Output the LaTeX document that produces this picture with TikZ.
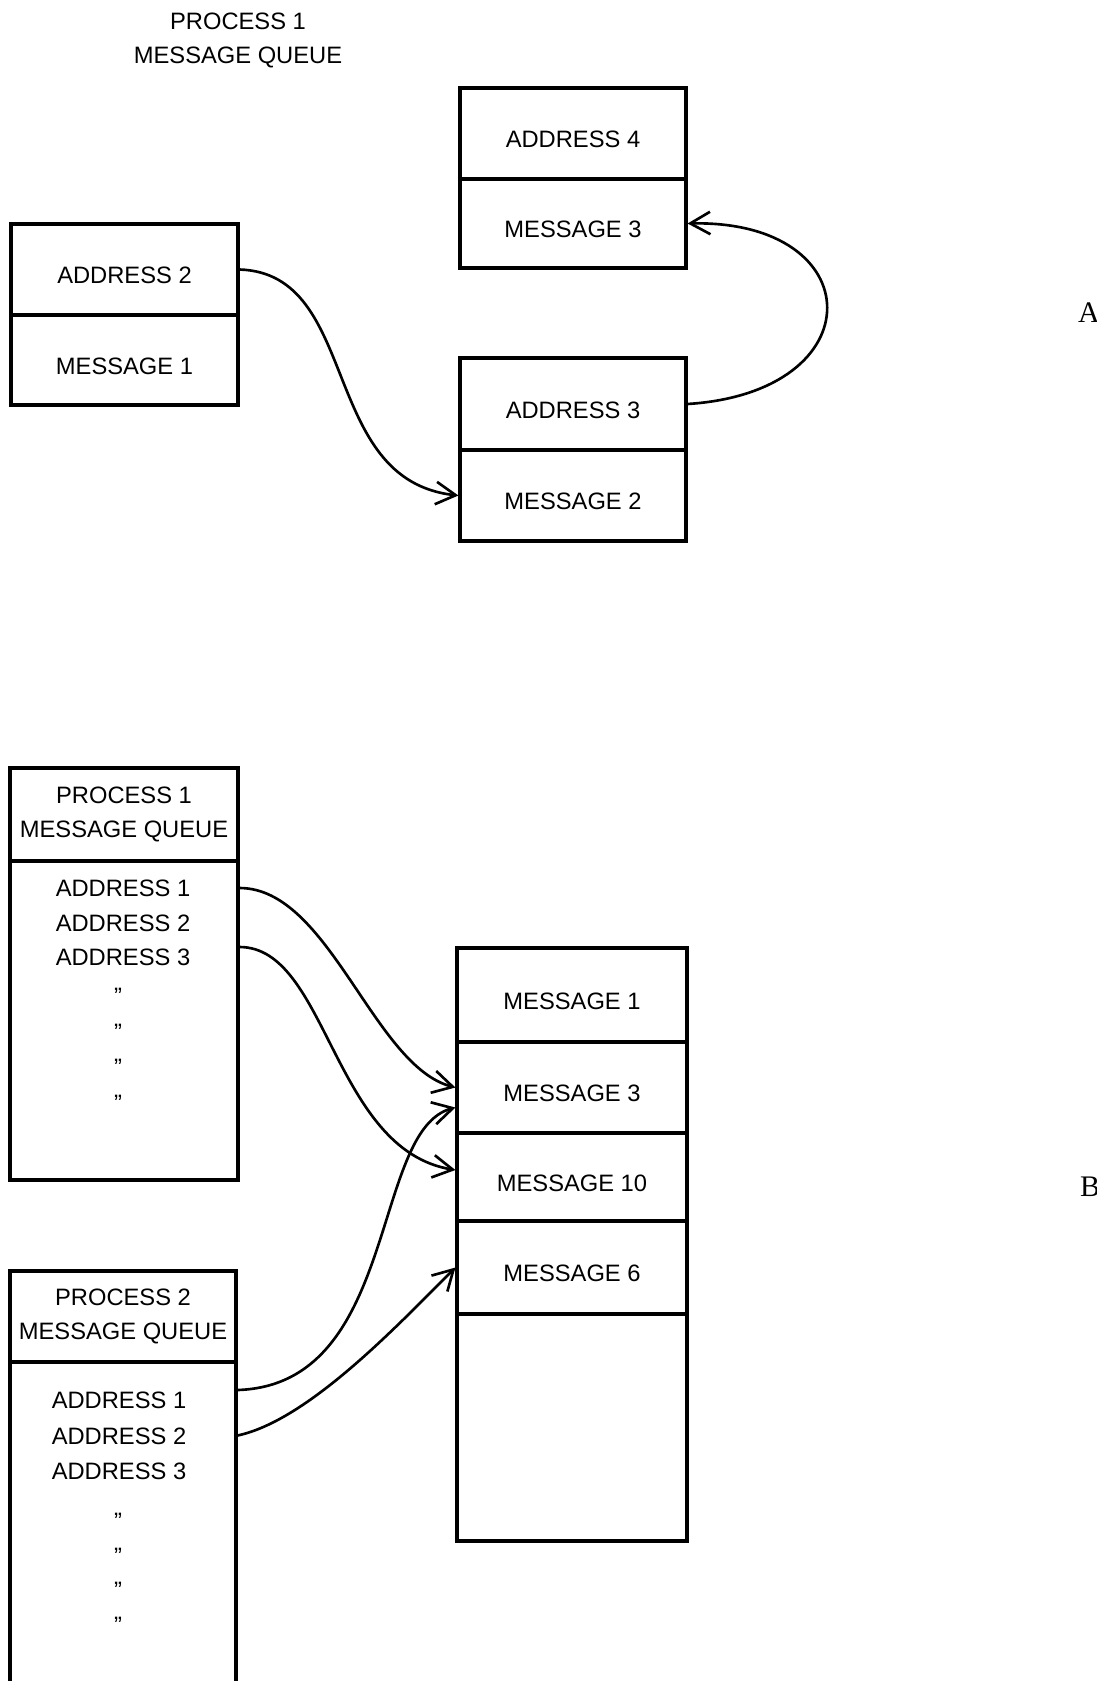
\documentclass[tikz,border=0pt]{standalone}
\usepackage{fontspec}
\setmainfont{Liberation Sans}
\newfontfamily\sidefont{Liberation Serif}
\usetikzlibrary{arrows.meta,calc}

\tikzset{
  cell/.style={draw, line width=1.8pt, inner sep=0pt, minimum width=4.54cm,
    text height=16pt, text depth=0pt},
  head/.style={draw, line width=1.8pt, inner sep=0pt, minimum width=4.54cm, align=center},
  txt/.style={inner sep=0pt, text height=9.7pt, text depth=0pt},
  link/.style={-{Straight Barb[length=4mm,width=4.5mm]}, line width=1.5pt},
}

\begin{document}
\begin{tikzpicture}[x=0.02cm, y=-0.02cm, font=\fontsize{13.5}{19.3}\selectfont]
  \useasboundingbox (0,0) rectangle (1097,1681);
  \clip (0,0) rectangle (1097,1681);

  % A : messages chained by address
  \node[align=center] (title) at (238,40) {PROCESS 1\\MESSAGE QUEUE};

  \node[cell, minimum height=1.82cm] (adrtwo) at (124.5,269.5) {ADDRESS 2};
  \node[cell, minimum height=1.8cm] (msgone) at (124.5,360) {MESSAGE 1};

  \node[cell, minimum width=4.52cm, minimum height=1.82cm] (adrfour) at (573,133.5) {ADDRESS 4};
  \node[cell, minimum width=4.52cm, minimum height=1.78cm] (msgthree) at (573,223.5) {MESSAGE 3};
  \node[cell, minimum width=4.52cm, minimum height=1.84cm] (adrthree) at (573,404) {ADDRESS 3};
  \node[cell, minimum width=4.52cm, minimum height=1.82cm] (msgtwo) at (573,495.5) {MESSAGE 2};

  \draw[link] (adrtwo.east) .. controls +(122,4) and +(-140,-15) .. (msgtwo.west);
  \draw[link] (adrthree.east) .. controls +(188,-12) and +(183,-4) .. (msgthree.east);

  \node[font=\sidefont\fontsize{17}{20}\selectfont] (lblA) at (1089,313) {A};

  % B : queues of addresses into one message pool
  \node[head, minimum width=4.56cm, minimum height=1.86cm] (p1head) at (124,814.5) {PROCESS 1\\MESSAGE QUEUE};
  \node[cell, minimum width=4.56cm, minimum height=6.38cm] (p1body) at (124,1020.5) {};
  \foreach \k in {1,2,3}
    \node[txt] (p1a\k) at (123,{888+34.5*(\k-1)}) {ADDRESS \k};
  \foreach \k in {0,...,3}
    \node[txt] (p1d\k) at (118,{996+35.5*\k}) {''};

  \node[head, minimum width=4.52cm, minimum height=1.82cm] (p2head) at (123,1316.5) {PROCESS 2\\MESSAGE QUEUE};
  \node[cell, minimum width=4.52cm, minimum height=6.76cm] (p2body) at (123,1531) {};
  \foreach \k in {1,2,3}
    \node[txt] (p2a\k) at (119,{1400+35.5*(\k-1)}) {ADDRESS \k};
  \foreach \k in {0,...,3}
    \node[txt] (p2d\k) at (118,{1521+34.7*\k}) {''};

  \node[cell, minimum width=4.6cm, minimum height=1.88cm] (qm1) at (572,995) {MESSAGE 1};
  \node[cell, minimum width=4.6cm, minimum height=1.82cm] (qm3) at (572,1087.5) {MESSAGE 3};
  \node[cell, minimum width=4.6cm, minimum height=1.76cm] (qm10) at (572,1177) {MESSAGE 10};
  \node[cell, minimum width=4.6cm, minimum height=1.86cm] (qm6) at (572,1267.5) {MESSAGE 6};
  \node[cell, minimum width=4.6cm, minimum height=4.54cm] (qfree) at (572,1427.5) {};

  \draw[link] (p1body.east |- p1a1) .. controls +(90,0) and +(-82,-21) .. (qm3.west);
  \draw[link] ($(p1body.east |- p1a3)+(0,-10)$) .. controls +(88,0) and +(-123,-20) .. ($(qm10.west)+(0,-7)$);
  \draw[link] ($(p2body.east |- p2a1)+(0,-10)$) .. controls +(162,-5) and +(-85,22) .. ($(qm3.west)+(0,20)$);
  \draw[link] (p2body.east |- p2a2) .. controls +(70,-15) and +(-60,60) .. (qm6.west);

  \node[font=\sidefont\fontsize{17}{20}\selectfont] (lblB) at (1090,1187) {B};
\end{tikzpicture}
\end{document}
